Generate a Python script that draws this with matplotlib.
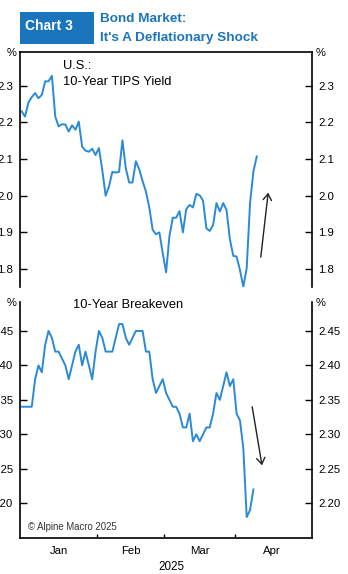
import numpy as np
import pandas as pd
import matplotlib
matplotlib.use("Agg")
import matplotlib.pyplot as plt
from matplotlib.patches import Rectangle

plt.rcParams['font.family'] = ['Liberation Sans', 'DejaVu Sans']

# weekday axis, Jan-Apr 2025
days = pd.bdate_range('2025-01-01', '2025-04-30')
month_labels = ['Jan', 'Feb', 'Mar', 'Apr']

# 10-year TIPS yield, %
tips = [2.23, 2.216, 2.254, 2.269, 2.28, 2.266, 2.275, 2.312, 2.312, 2.327,
        2.216, 2.189, 2.195, 2.194, 2.175, 2.192, 2.18, 2.202, 2.134, 2.123,
        2.12, 2.128, 2.111, 2.13, 2.07, 2.0, 2.025, 2.065, 2.063, 2.065,
        2.151, 2.075, 2.036, 2.036, 2.094, 2.072, 2.04, 2.011, 1.968, 1.907,
        1.895, 1.90, 1.843, 1.791, 1.89, 1.94, 1.94, 1.958, 1.90, 1.963,
        1.975, 1.968, 2.005, 2.001, 1.987, 1.911, 1.904, 1.92, 1.98, 1.957,
        1.98, 1.961, 1.881, 1.836, 1.834, 1.797, 1.752, 1.802, 1.98, 2.066,
        2.107]

# 10-year breakeven, %
breakeven = [2.34, 2.34, 2.34, 2.34, 2.38, 2.40, 2.39, 2.43, 2.45, 2.44,
             2.42, 2.42, 2.41, 2.40, 2.38, 2.40, 2.42, 2.43, 2.40, 2.42,
             2.40, 2.38, 2.42, 2.45, 2.44, 2.42, 2.42, 2.42, 2.44, 2.46,
             2.46, 2.44, 2.43, 2.44, 2.45, 2.45, 2.45, 2.42, 2.42, 2.38,
             2.36, 2.37, 2.38, 2.36, 2.35, 2.34, 2.34, 2.33, 2.31, 2.31,
             2.33, 2.29, 2.30, 2.29, 2.30, 2.31, 2.31, 2.33, 2.36, 2.35,
             2.37, 2.39, 2.37, 2.38, 2.33, 2.32, 2.28, 2.18, 2.19, 2.22]

tips_ticks = [1.8, 1.9, 2.0, 2.1, 2.2, 2.3]
be_ticks = [2.20, 2.25, 2.30, 2.35, 2.40, 2.45]

BLUE = '#2a8ad5'
DARK = '#1b75bc'
W, H = 348, 574


def box(l, t, r, b):
    return [l / W, 1 - b / H, (r - l) / W, (b - t) / H]


def ftext(px, py, s, **kw):
    fig.text(px / W, 1 - py / H, s, **kw)


x = np.arange(len(days))

fig = plt.figure(figsize=(W / 100, H / 100), dpi=100)
ax1 = fig.add_axes(box(20, 52, 311.5, 287))
ax2 = fig.add_axes(box(20, 302, 311.5, 537.7))

ax1.plot(x[:len(tips)], tips, color=BLUE, lw=1.4)
ax2.plot(x[:len(breakeven)], breakeven, color=BLUE, lw=1.4)

for ax in (ax1, ax2):
    ax.set_xlim(-0.5, len(days) + 0.3)
    ax.tick_params(axis='y', direction='in', length=5, width=1,
                   left=True, right=True, labelleft=True, labelright=True,
                   labelsize=8.2, pad=5)
    for s in ax.spines.values():
        s.set_linewidth(1.2)

ax1.set_ylim(1.751, 2.392)
ax1.set_yticks(tips_ticks, labels=['%.1f' % v for v in tips_ticks])
ax1.set_xticks([])
ax1.spines['bottom'].set_visible(False)

ax2.set_ylim(2.150, 2.492)
ax2.set_yticks(be_ticks, labels=['%.2f' % v for v in be_ticks])
ax2.spines['top'].set_visible(False)

# month labels in the middle, small ticks at month boundaries
m = days.month
bounds = [i - 0.5 for i in range(1, len(days)) if m[i] != m[i - 1]]
centers = [np.mean(np.where(m == k)[0]) for k in sorted(set(m))]
ax2.set_xticks(centers, labels=month_labels)
ax2.set_xticks(bounds, minor=True)
ax2.tick_params(axis='x', which='major', length=0, pad=6, labelsize=8.2)
ax2.tick_params(axis='x', which='minor', direction='in', length=3, width=1)

arrow = dict(arrowstyle='->,head_length=0.45,head_width=0.3', color='#222222', lw=1.0)
ax1.annotate('', xy=(73.5, 2.016), xytext=(71.1, 1.825), arrowprops=arrow)
ax2.annotate('', xy=(71.7, 2.251), xytext=(68.5, 2.344), arrowprops=arrow)

# title block
fig.patches.append(Rectangle((20 / W, 1 - 44.3 / H), 74 / W, 32.6 / H,
                             transform=fig.transFigure, color=DARK, lw=0))
ftext(25, 26, 'Chart 3', color='white', fontsize=10, fontweight='bold', va='center')
ftext(99.5, 19, 'Bond Market:', color=DARK, fontsize=9.7, fontweight='bold', va='center')
ftext(99.5, 38.5, "It's A Deflationary Shock", color=DARK, fontsize=9.7,
      fontweight='bold', va='center')

# panel labels
ftext(63.3, 66, 'U.S.:', fontsize=9.3, va='center')
ftext(63.3, 82, '10-Year TIPS Yield', fontsize=9.3, va='center')
ftext(72.7, 305, '10-Year Breakeven', fontsize=9.3, va='center')
ftext(27.7, 527, '\u00a9 Alpine Macro 2025', fontsize=6.9, color='#333333', va='center')

for py in (53, 303):
    ftext(12, py, '%', fontsize=8, ha='center', va='center')
    ftext(321, py, '%', fontsize=8, ha='center', va='center')
ftext(171.7, 566.7, '2025', fontsize=8.4, ha='center', va='center')

fig.savefig('out.png', dpi=100)
